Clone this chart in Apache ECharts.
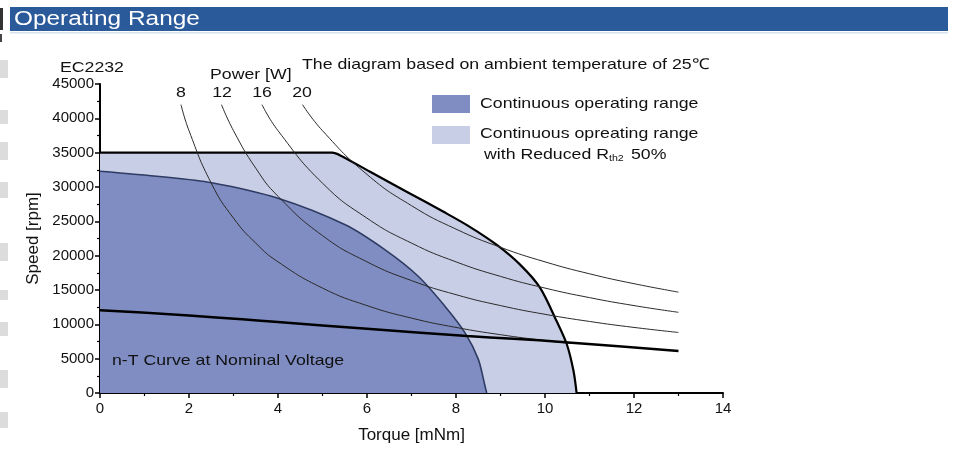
<!DOCTYPE html>
<html><head><meta charset="utf-8">
<script src="https://cdn.jsdelivr.net/npm/echarts@6/dist/echarts.min.js"></script>
<style>html,body{margin:0;padding:0;background:#fff}#c{width:954px;height:449px}</style>
</head><body><div id="c"></div>
<script>
// Torque [mNm], Speed [rpm]
const reducedRange = [[0,35000],[5.22,35000],[5.4,34600],[6.07,32220],[6.89,29320],[7.71,26420],[8.31,24200],[8.91,21600],[9.44,18700],[9.89,15320],[10.26,10480],[10.49,7100],[10.64,3230],[10.71,0]];
const continuousRange = [[0,32300],[1.39,31500],[2.51,30620],[4.0,28360],[5.51,24490],[6.4,20870],[7.15,17000],[7.75,12650],[8.2,8800],[8.5,4930],[8.65,1060],[8.69,0]];
const nTCurve = [[0,12050],[2,11300],[4,10330],[6,9350],[8.25,8300],[10.45,7400],[13,6100]];
const power8 = [[1.82,42000],[2,38200],[2.5,30560],[3,25460],[3.5,21830],[4,19100],[5,15280],[6,12730],[7,10910],[8,9550],[9,8490],[10,7640],[10.6,7210]];
const power12 = [[2.73,42000],[3,38200],[3.5,32740],[4,28650],[5,22920],[6,19100],[7,16370],[8,14320],[9,12730],[10,11460],[11,10420],[12,9550],[13,8815]];
const power16 = [[3.64,42000],[4,38200],[5,30560],[6,25460],[7,21830],[8,19100],[9,16980],[10,15280],[11,13890],[12,12730],[13,11750]];
const power20 = [[4.55,42000],[5,38200],[6,31830],[7,27280],[8,23870],[9,21220],[10,19100],[11,17360],[12,15920],[13,14690]];
const powerLabels = ['8','12','16','20'];

const FONT = 'Liberation Sans, Arial, sans-serif';
const SX = 1.18;
const chart = echarts.init(document.getElementById('c'));
const thin = (d) => ({type:'line', data:d, smooth:true, showSymbol:false, symbol:'none', z:4,
  lineStyle:{color:'#2a2a2a', width:1}});
const txt = (x, y, text, size, extra) => Object.assign({type:'text', x:x, y:y, z:11, scaleX:SX,
  style:Object.assign({text:text, fill:'#111', font:size+'px '+FONT, verticalAlign:'middle'}, extra||{})});
const leftMarks = [[60,18],[110,14],[142,18],[182,16],[243,18],[290,10],[322,14],[370,18],[412,16]];
chart.setOption({
  animation:false,
  backgroundColor:'#fff',
  grid:{left:100, right:231, top:84, bottom:55},
  xAxis:{type:'value', min:0, max:14, interval:2,
    name:'Torque [mNm]', nameLocation:'middle', nameGap:34,
    nameTextStyle:{fontFamily:FONT, fontSize:17, color:'#111'},
    axisLine:{show:true, onZero:false, lineStyle:{color:'#000', width:2}},
    axisTick:{show:true, inside:false, length:5, lineStyle:{color:'#000', width:1.5}},
    minorTick:{show:true, splitNumber:2, length:3, lineStyle:{color:'#000', width:1.2}},
    axisLabel:{fontFamily:FONT, fontSize:15, color:'#111', margin:8},
    splitLine:{show:false}},
  yAxis:{type:'value', min:0, max:45000, interval:5000,
    name:'Speed [rpm]', nameLocation:'middle', nameGap:58,
    nameTextStyle:{fontFamily:FONT, fontSize:17, color:'#111'},
    axisLine:{show:true, onZero:false, lineStyle:{color:'#000', width:2}},
    axisTick:{show:true, inside:false, length:5, lineStyle:{color:'#000', width:1.5}},
    minorTick:{show:true, splitNumber:2, length:3, lineStyle:{color:'#000', width:1.2}},
    axisLabel:{fontFamily:FONT, fontSize:15, color:'#111', margin:6, formatter:(v)=>String(v)},
    splitLine:{show:false}},
  series:[
    {type:'line', data:reducedRange, showSymbol:false, symbol:'none', smooth:0.3, z:2,
      lineStyle:{color:'#000', width:2.2}, areaStyle:{color:'#c9cee7', opacity:1}},
    {type:'line', data:continuousRange, showSymbol:false, symbol:'none', smooth:0.3, z:3,
      lineStyle:{color:'#2e3b62', width:1.6}, areaStyle:{color:'#7f8dc3', opacity:1}},
    thin(power8), thin(power12), thin(power16), thin(power20),
    {type:'line', data:nTCurve, smooth:true, showSymbol:false, symbol:'none', z:5,
      lineStyle:{color:'#000', width:2.5}}
  ],
  graphic:[
    {type:'rect', shape:{x:10,y:7,width:938,height:24}, style:{fill:'#2b5a9b'}, z:10},
    {type:'rect', shape:{x:10,y:32,width:938,height:1.5}, style:{fill:'#d8e0ee'}, z:10},
    {type:'text', x:14, y:19, z:11, scaleX:1.22, style:{text:'Operating Range', fill:'#fff', font:'20px '+FONT, verticalAlign:'middle'}},
    {type:'rect', shape:{x:0,y:8,width:3,height:22}, style:{fill:'#333'}, z:10},
    {type:'rect', shape:{x:0,y:34,width:2,height:8}, style:{fill:'#444'}, z:10},
    ...leftMarks.map(m => ({type:'rect', shape:{x:0,y:m[0],width:8,height:m[1]}, style:{fill:'#dcdcdc'}, z:10})),
    txt(60, 68, 'EC2232', 15),
    txt(210, 75, 'Power [W]', 15),
    txt(302, 65, 'The diagram based on ambient temperature of 25\u2103', 15),
    ...powerLabels.map((t,i) => txt([181,222,262,302][i], 93, t, 15, {align:'center'})),
    {type:'rect', shape:{x:432,y:95,width:38,height:18}, style:{fill:'#7f8dc3'}, z:11},
    {type:'rect', shape:{x:432,y:126,width:38,height:18}, style:{fill:'#c9cee7'}, z:11},
    txt(480, 104, 'Continuous operating range', 15),
    txt(480, 134, 'Continuous opreating range', 15),
    txt(484, 155, 'with Reduced R{s|th2} 50%', 15,
      {rich:{s:{fontSize:9, fontFamily:FONT, fill:'#111', verticalAlign:'bottom', padding:[8,2,0,0]}}}),
    txt(112, 361, 'n-T Curve at Nominal Voltage', 15)
  ]
});
</script></body></html>
